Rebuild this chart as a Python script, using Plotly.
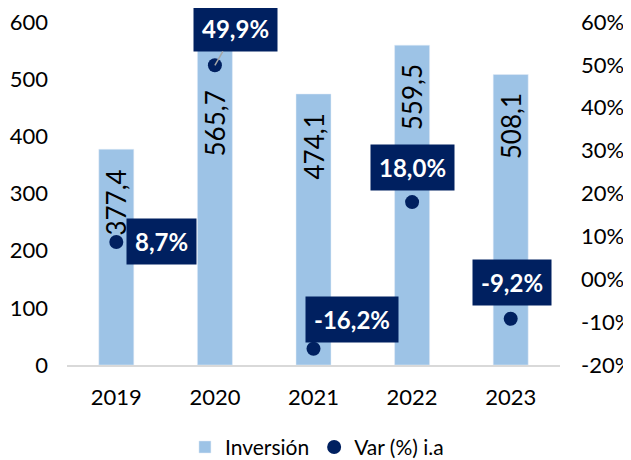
import plotly.graph_objects as go

years = ["2019", "2020", "2021", "2022", "2023"]
inversion = [377.4, 565.7, 474.1, 559.5, 508.1]
var_ia = [0.087, 0.499, -0.162, 0.180, -0.092]
var_labels = ["8,7%", "49,9%", "-16,2%", "18,0%", "-9,2%"]
inv_labels = ["377,4", "565,7", "474,1", "559,5", "508,1"]

left_ticks = [0, 100, 200, 300, 400, 500, 600]
right_ticks = [-0.2, -0.1, 0.0, 0.1, 0.2, 0.3, 0.4, 0.5, 0.6]
right_ticktext = ["-20%", "-10%", "00%", "10%", "20%", "30%", "40%", "50%", "60%"]

FONT = "Lato"
NAVY = "#002060"
BAR = "#9DC3E6"

xpos = list(range(len(years)))

fig = go.Figure()

fig.add_trace(go.Bar(
	x=xpos, y=inversion, name="Inversión",
	marker_color=BAR, width=0.355,
))

fig.add_trace(go.Scatter(
	x=xpos, y=var_ia, name="Var (%) i.a", yaxis="y2",
	mode="markers", marker=dict(color=NAVY, size=14),
))

# bar value labels, rotated, near the top of each bar
bar_shift = [-18, -47, -18, -17, -17]
for xp, v, lab, s in zip(xpos, inversion, inv_labels, bar_shift):
	fig.add_annotation(
		x=xp, y=v, xref="x", yref="y", text=lab, textangle=-90,
		showarrow=False, yanchor="top", yshift=s,
		font=dict(family=FONT, size=26, color="black"),
	)

# percentage labels in dark boxes (offsets in px from the point)
offsets = [(10, 0), None, (38, 29), (0, 35), (1, 36)]
for xp, v, lab, off in zip(xpos, var_ia, var_labels, offsets):
	common = dict(
		x=xp, y=v, xref="x", yref="y2", text="<b>%s</b>" % lab,
		bgcolor=NAVY, borderpad=8,
		font=dict(family=FONT, size=24, color="white"),
	)
	if off is None:
		fig.add_annotation(**common, showarrow=True, arrowhead=0,
			arrowcolor="#A6A6A6", arrowwidth=1.5, ax=21, ay=-37)
	elif off == (10, 0):
		fig.add_annotation(**common, showarrow=False, xanchor="left",
			xshift=off[0], yshift=off[1])
	else:
		fig.add_annotation(**common, showarrow=False, xshift=off[0], yshift=off[1])

# page body has an 8px margin, so the figure is a bit smaller than the window
fig.update_layout(
	width=623, height=452,
	margin=dict(l=59, r=71, t=14, b=95, autoexpand=False),
	plot_bgcolor="white", paper_bgcolor="white",
	font=dict(family=FONT, size=22, color="black"),
	showlegend=True,
	legend=dict(orientation="h", x=0.507, xanchor="center", y=-0.24, yanchor="middle",
		font=dict(size=21)),
	xaxis=dict(range=[-0.5, 4.5], tickvals=xpos, ticktext=years,
		showline=True, linecolor="#D9D9D9", linewidth=2,
		ticks="", tickfont=dict(size=22), showgrid=False, zeroline=False,
		ticklabelstandoff=12),
	yaxis=dict(range=[0, 600], tickvals=left_ticks, showgrid=False,
		zeroline=False, tickfont=dict(size=22), ticklabelstandoff=18,
		ticklabeloverflow="allow"),
	yaxis2=dict(range=[-0.2, 0.6], tickvals=right_ticks, ticktext=right_ticktext,
		overlaying="y", side="right", showgrid=False, zeroline=False,
		tickfont=dict(size=22), ticklabelstandoff=20, ticklabeloverflow="allow"),
)

fig.write_html("out.html")
